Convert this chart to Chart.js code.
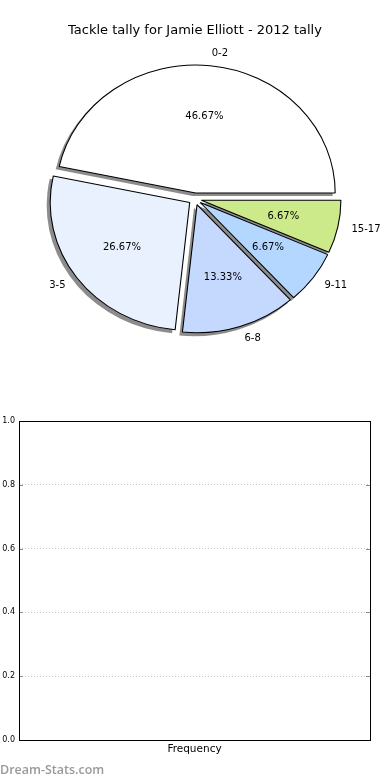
<!DOCTYPE html>
<html>
<head>
<meta charset="utf-8">
<script src="https://cdn.jsdelivr.net/npm/chart.js@4/dist/chart.umd.min.js"></script>
<style>
  html, body { margin: 0; padding: 0; background: #fff; }
  #wrap { position: relative; width: 390px; height: 780px; overflow: hidden; }
  #pieBox { position: absolute; left: 0; top: 0; width: 390px; height: 400px; }
  #barBox { position: absolute; left: 0; top: 400px; width: 390px; height: 380px; }
  #mark { position: absolute; left: 0; top: 761px; font: 600 12.5px "Open Sans", sans-serif; color: #999; }
</style>
</head>
<body>
<div id="wrap">
  <div id="pieBox"><canvas id="pieChart" width="390" height="400"></canvas></div>
  <div id="barBox"><canvas id="barChart" width="390" height="380"></canvas></div>
  <div id="mark">Dream-Stats.com</div>
</div>
<script>
// tackle buckets and how many games fell in each (15 games)
const tallyLabels = ['0-2', '3-5', '6-8', '9-11', '15-17'];
const tallyCounts = [7, 4, 2, 1, 1];
const sliceColors = ['#ffffff', '#eaf1fe', '#c5d9fe', '#b3d7fe', '#cdea8a'];

// empty frequency axes underneath
const freqCategories = ['Frequency'];
const freqValues = [0];
const freqTicks = [0, 0.2, 0.4, 0.6, 0.8, 1.0];

const FONT = '"DejaVu Sans", sans-serif';
const EXPLODE = 6;          // px each wedge is pulled out
const STRETCH = 139.5 / 128;  // matplotlib pie is a bit wider than tall
const total = tallyCounts.reduce((a, b) => a + b, 0);

// matplotlib goes counter-clockwise from 3 o'clock, chart.js goes clockwise,
// so feed the wedges in reverse and start at 90deg
const pieLabels = tallyLabels.slice().reverse();
const pieData = tallyCounts.slice().reverse();
const pieColors = sliceColors.slice().reverse();

// chart.js offset also grows the radius, so explode + shadow are done here
const pieLook = {
    id: 'pieLook',
    beforeDatasetsDraw(chart) {
        const ctx = chart.ctx;
        const arcs = chart.getDatasetMeta(0).data;
        const cx = arcs[0].x, cy = arcs[0].y;
        ctx.save();
        ctx.translate(cx, cy);
        ctx.scale(STRETCH, 1);
        ctx.translate(-cx, -cy);

        // shadows first, down-left
        ctx.fillStyle = 'rgba(0,0,0,0.45)';
        arcs.forEach(a => {
            const mid = (a.startAngle + a.endAngle) / 2;
            const ox = Math.cos(mid) * EXPLODE - 3 / STRETCH;
            const oy = Math.sin(mid) * EXPLODE + 3;
            ctx.beginPath();
            ctx.moveTo(a.x + ox, a.y + oy);
            ctx.arc(a.x + ox, a.y + oy, a.outerRadius + 0.5, a.startAngle, a.endAngle);
            ctx.closePath();
            ctx.fill();
        });

        arcs.forEach(a => {
            const mid = (a.startAngle + a.endAngle) / 2;
            ctx.save();
            ctx.translate(Math.cos(mid) * EXPLODE, Math.sin(mid) * EXPLODE);
            a.draw(ctx);
            ctx.restore();
        });
        ctx.restore();
        return false;
    },
    afterDraw(chart) {
        const ctx = chart.ctx;
        const arcs = chart.getDatasetMeta(0).data;
        ctx.save();
        ctx.fillStyle = '#000';
        ctx.font = '10px ' + FONT;
        ctx.textBaseline = 'middle';
        arcs.forEach((a, i) => {
            const mid = (a.startAngle + a.endAngle) / 2;
            const c = Math.cos(mid), s = Math.sin(mid);
            const at = k => [a.x + (EXPLODE + k * a.outerRadius) * c * STRETCH,
                             a.y + (EXPLODE + k * a.outerRadius) * s];
            const [lx, ly] = at(1.1);
            ctx.textAlign = c > 0 ? 'left' : 'right';
            ctx.fillText(pieLabels[i], lx, ly);
            const [px, py] = at(0.6);
            ctx.textAlign = 'center';
            ctx.fillText((pieData[i] / total * 100).toFixed(2) + '%', px, py);
        });
        ctx.restore();
    }
};

new Chart(document.getElementById('pieChart'), {
    type: 'pie',
    data: {
        labels: pieLabels,
        datasets: [{
            data: pieData,
            backgroundColor: pieColors,
            borderColor: '#000',
            borderWidth: 1,
            radius: 128,
            offset: 0
        }]
    },
    options: {
        responsive: false,
        animation: false,
        rotation: 90,
        layout: { padding: { left: 0, right: 0, top: 0, bottom: 40.6 } },
        plugins: {
            legend: { display: false },
            tooltip: { enabled: false },
            title: {
                display: true,
                text: 'Tackle tally for Jamie Elliott - 2012 tally',
                color: '#000',
                font: { family: FONT, size: 13, weight: 'normal' },
                padding: { top: 23, bottom: 0 }
            }
        }
    },
    plugins: [pieLook]
});

const axesBox = {
    id: 'axesBox',
    afterDraw(chart) {
        const { ctx, chartArea: a, scales } = chart;
        ctx.save();
        ctx.strokeStyle = '#888';
        ctx.lineWidth = 1;
        scales.y.ticks.forEach(t => {
            const y = Math.round(scales.y.getPixelForValue(t.value)) + 0.5;
            ctx.beginPath();
            ctx.moveTo(a.left, y); ctx.lineTo(a.left + 4, y);
            ctx.moveTo(a.right - 4, y); ctx.lineTo(a.right, y);
            ctx.stroke();
        });
        ctx.strokeStyle = '#000';
        ctx.strokeRect(Math.round(a.left) + 0.5, Math.round(a.top) + 0.5,
                       Math.round(a.right - a.left), Math.round(a.bottom - a.top));
        ctx.restore();
    }
};

new Chart(document.getElementById('barChart'), {
    type: 'bar',
    data: {
        labels: freqCategories,
        datasets: [{
            data: freqValues,
            backgroundColor: '#b3d7fe',
            borderWidth: 0
        }]
    },
    options: {
        responsive: false,
        animation: false,
        layout: { padding: { left: 0, right: 20, top: 21, bottom: 0 } },
        plugins: { legend: { display: false }, tooltip: { enabled: false } },
        scales: {
            x: {
                grid: { display: false, drawTicks: false },
                border: { display: false },
                ticks: { color: '#000', padding: 3, font: { family: FONT, size: 10.5 } },
                afterFit: s => { s.height = 40; }
            },
            y: {
                min: 0,
                max: 1,
                afterBuildTicks: s => { s.ticks = freqTicks.map(v => ({ value: v })); },
                grid: { color: '#c4c4c4', drawTicks: false, lineWidth: 1 },
                border: { display: false, dash: [1, 2] },
                ticks: {
                    color: '#000',
                    padding: 4,
                    font: { family: FONT, size: 8 },
                    callback: v => Number(v).toFixed(1)
                },
                afterFit: s => { s.width = 19; }
            }
        }
    },
    plugins: [axesBox]
});
</script>
</body>
</html>
